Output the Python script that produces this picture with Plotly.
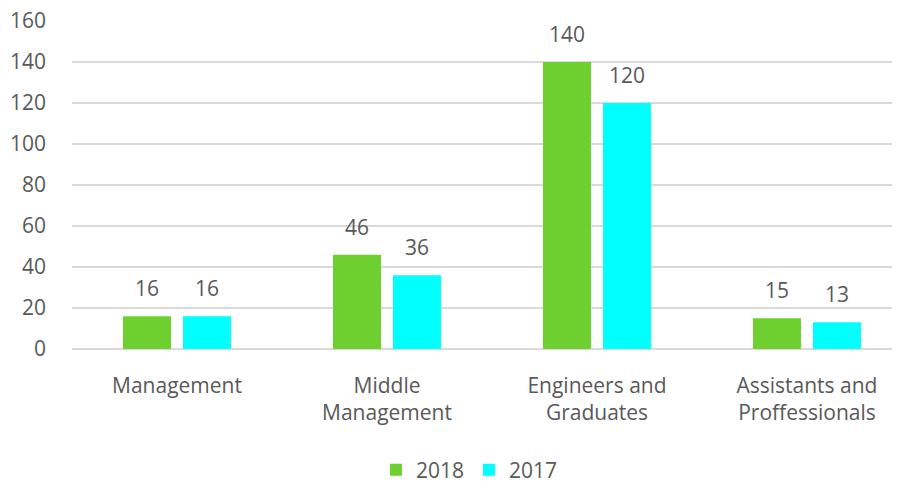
import plotly.graph_objects as go

# Headcount by category
categories = ["Management", "Middle<br>Management", "Engineers and<br>Graduates", "Assistants and<br>Proffessionals"]
values_2018 = [16, 46, 140, 15]
values_2017 = [16, 36, 120, 13]

green = "#6dd02f"
cyan = "#00ffff"
text_gray = "#595959"
font_family = "Open Sans, Noto Sans, sans-serif"

fig = go.Figure()
fig.add_trace(go.Bar(x=categories, y=values_2018, name="2018", marker=dict(color=green, line=dict(width=0))))
fig.add_trace(go.Bar(x=categories, y=values_2017, name="2017", marker=dict(color=cyan, line=dict(width=0))))

# data labels above the bars
for i, cat in enumerate(categories):
    for val, off in ((values_2018[i], -0.1429), (values_2017[i], 0.1429)):
        fig.add_annotation(x=i + off, y=val, text=str(val), showarrow=False,
                           yanchor="bottom", yshift=12,
                           font=dict(size=21, color=text_gray, family=font_family))

# page body has an 8px margin, so the figure is 8px smaller than the window
fig.update_layout(
    width=892, height=476,
    margin=dict(l=64, r=0, t=13, b=135, autoexpand=False),
    paper_bgcolor="white", plot_bgcolor="white",
    barmode="group", bargap=0.4286, bargroupgap=0.2,
    font=dict(family=font_family, size=21, color=text_gray),
    showlegend=True,
    legend=dict(orientation="h", x=0.48, xanchor="center", y=-0.369, yanchor="middle",
                font=dict(size=21, color=text_gray), itemwidth=30, traceorder="normal"),
    xaxis=dict(range=[-0.5, 3.443], showgrid=False, showline=False, ticks="", automargin=False,
               ticklabelstandoff=22, tickfont=dict(size=21, color=text_gray)),
    yaxis=dict(range=[0, 160], dtick=20, ticklabeloverflow="allow",
               showgrid=True, gridcolor="#d9d9d9", gridwidth=1.5,
               zeroline=True, zerolinecolor="#d9d9d9", zerolinewidth=1.5, automargin=False,
               showline=False, ticks="", ticklabelstandoff=25,
               tickfont=dict(size=21, color=text_gray)),
)

fig.write_html("out.html")
